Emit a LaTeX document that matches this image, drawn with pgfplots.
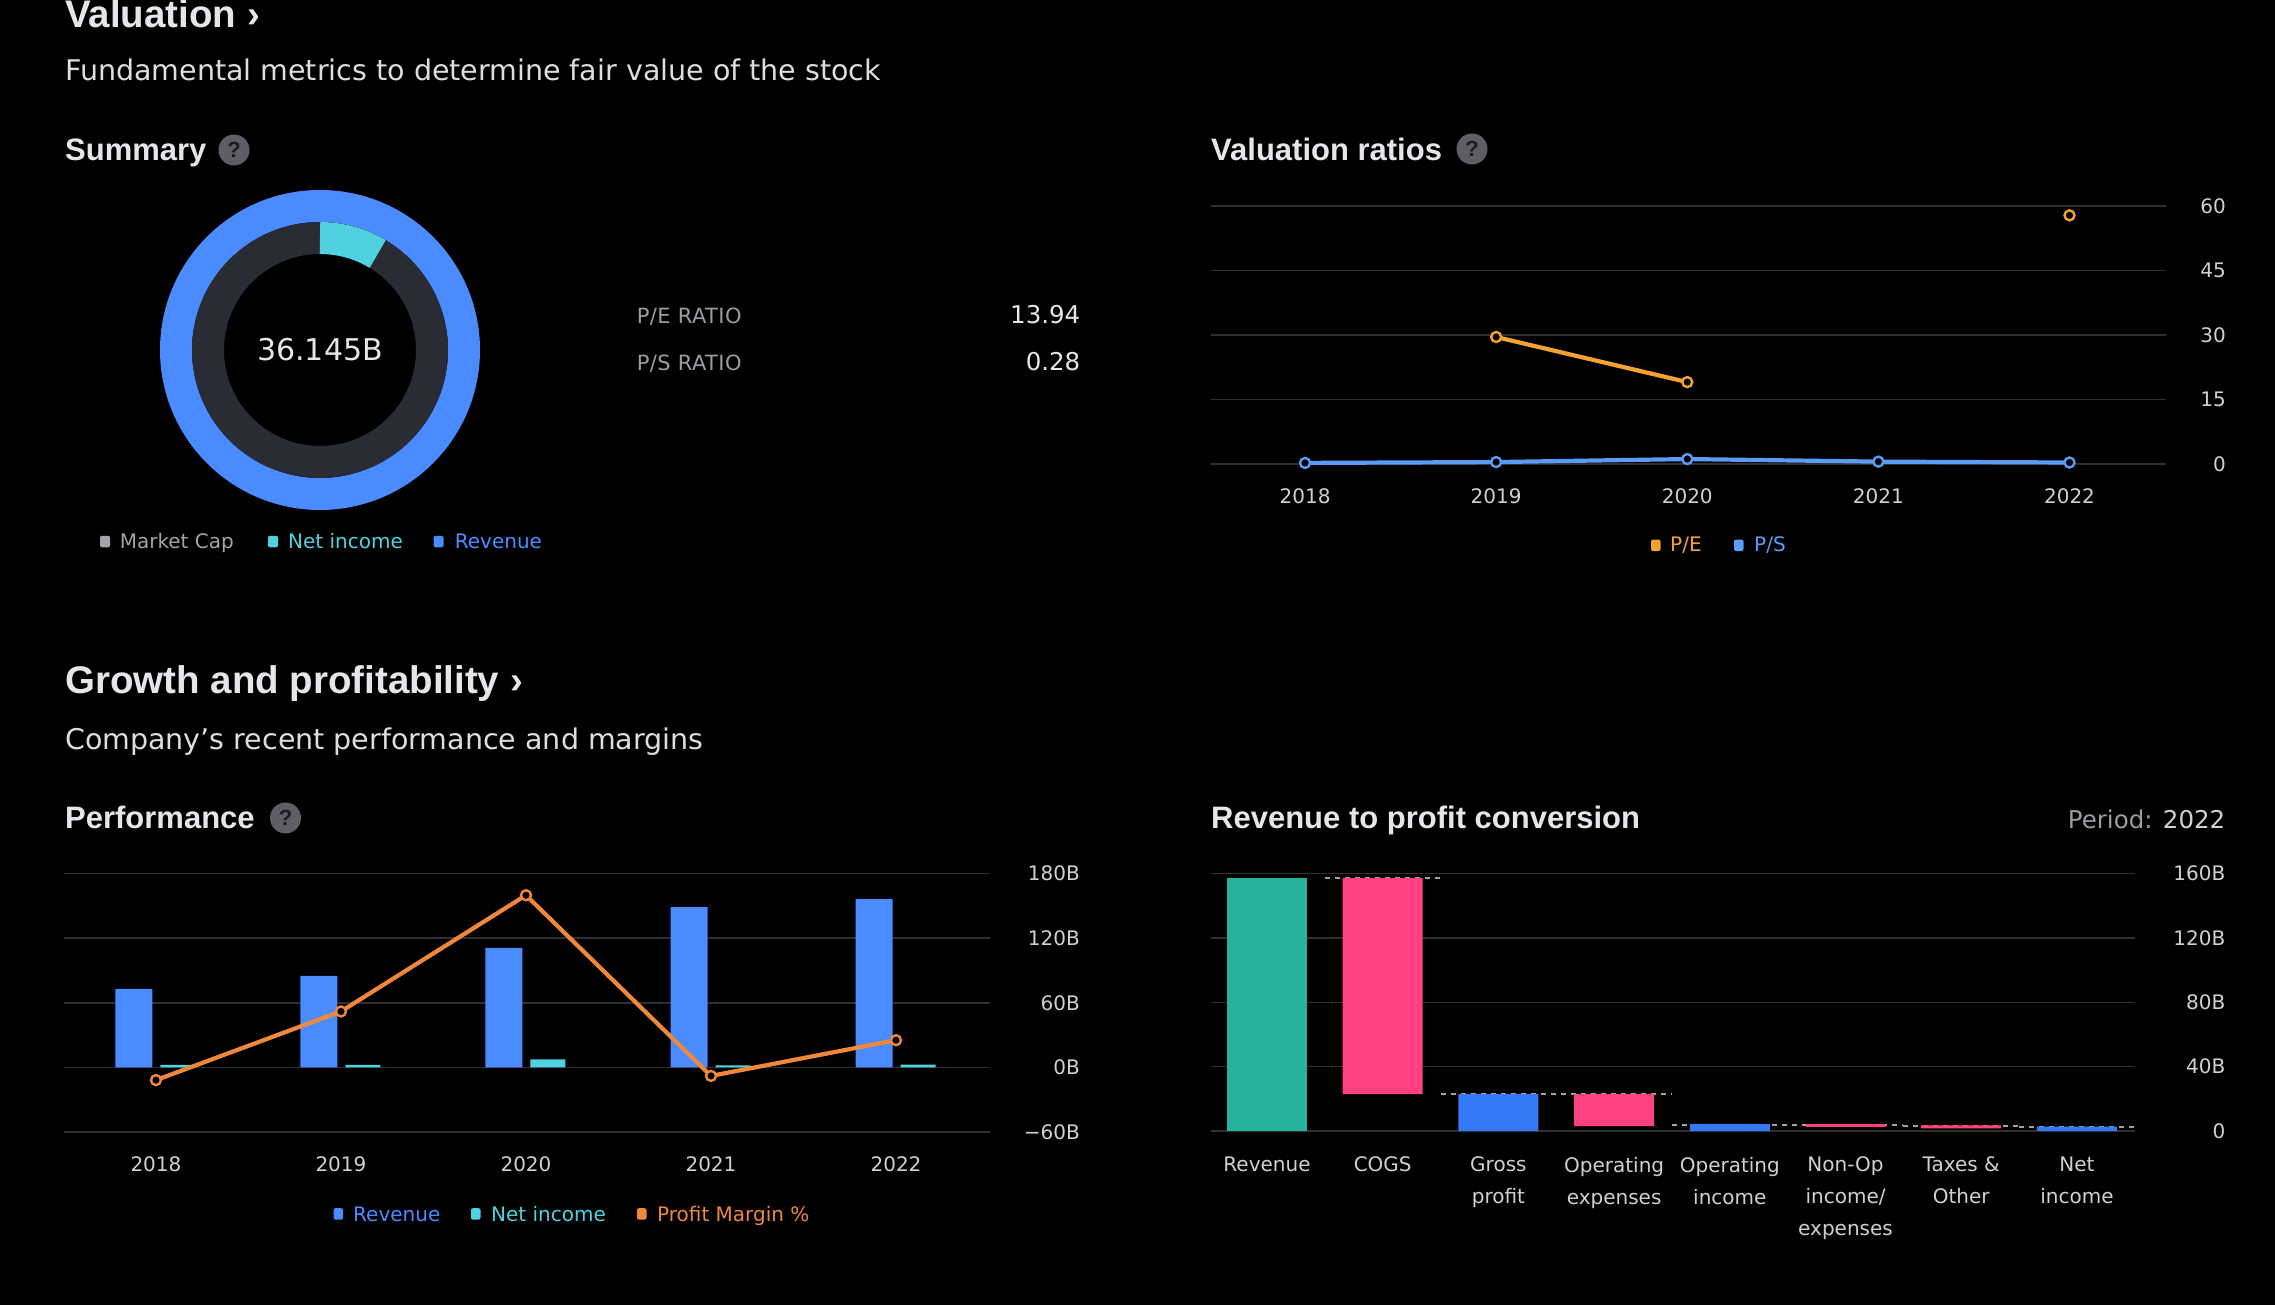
\documentclass[border=0pt]{standalone}
\usepackage{pgfplots}
\pgfplotsset{compat=1.18}
\usepackage{fontspec}
\setmainfont{DejaVu Sans}
\newfontfamily\headfont{Liberation Sans}
\newfontfamily\trackfont{DejaVu Sans}[LetterSpace=2.0]

\definecolor{title}{HTML}{E6E6EA}
\definecolor{sub}{HTML}{DEDEE2}
\definecolor{tick}{HTML}{D0D0D4}
\definecolor{lblgray}{HTML}{9C9CA2}
\definecolor{grid}{HTML}{2E2F36}
\definecolor{qbg}{HTML}{5D5E66}
\definecolor{qfg}{HTML}{1C1C1F}
\definecolor{ring}{HTML}{2A2C35}
\definecolor{blueA}{HTML}{4A8BFF}
\definecolor{cyanA}{HTML}{4FD1E0}
\definecolor{mcgray}{HTML}{A3A3A8}
\definecolor{peorange}{HTML}{F5A233}
\definecolor{psblue}{HTML}{5A9CF5}
\definecolor{pmorange}{HTML}{F0883C}
\definecolor{wfgreen}{HTML}{25B39B}
\definecolor{wfpink}{HTML}{FF4081}
\definecolor{wfblue}{HTML}{3579F6}
\definecolor{dashc}{HTML}{A0A0A6}

\def\lbl{\fontsize{20}{24}\selectfont}
\def\head{\headfont\bfseries\fontsize{31}{37}\selectfont}
\def\big{\headfont\bfseries\fontsize{38.5}{46}\selectfont}
\def\subt{\fontsize{28.5}{34}\selectfont}

\newcommand{\qmark}[2]{%
  \fill[qbg] (#1,#2) circle[radius=15.5pt];
  \node[text=qfg, inner sep=0pt, font=\headfont\bfseries\fontsize{22}{22}\selectfont] at (#1,#2) {?};}

\pgfplotsset{darkax/.style={
  scale only axis,
  anchor=south west,
  axis line style={draw=none},
  tick style={draw=none},
  major tick length=0pt,
  ymajorgrids,
  major grid style={color=grid, line width=1.6pt},
  clip=false,
  ticklabel style={font=\lbl, text=tick, inner sep=0pt},
  yticklabel pos=right,
  yticklabel style={anchor=east},
  xticklabel style={anchor=base},
  xtick={0,...,4},
  xticklabels={2018,2019,2020,2021,2022},
}}

\begin{document}
\begin{tikzpicture}[x=1pt,y=1pt]
\useasboundingbox (0,0) rectangle (2275,1305);
\fill[black] (0,0) rectangle (2275,1305);

% ---------- headings ----------
\node[anchor=base west, inner sep=0pt, text=title, font=\big] at (65,1277.4) {Valuation ›};
\node[anchor=base west, inner sep=0pt, text=sub, font=\subt] at (65,1224) {Fundamental metrics to determine fair value of the stock};
\node[anchor=base west, inner sep=0pt, text=title, font=\head] at (65,1144.3) {Summary};
\qmark{234}{1155}
\node[anchor=base west, inner sep=0pt, text=title, font=\head] at (1211,1144.3) {Valuation ratios};
\qmark{1472}{1156}

\node[anchor=base west, inner sep=0pt, text=title, font=\big] at (65,611) {Growth and profitability ›};
\node[anchor=base west, inner sep=0pt, text=sub, font=\subt] at (65,555.6) {Company’s recent performance and margins};
\node[anchor=base west, inner sep=0pt, text=title, font=\head] at (65,476.3) {Performance};
\qmark{285.5}{487}
\node[anchor=base west, inner sep=0pt, text=title, font=\head] at (1211,476.3) {Revenue to profit conversion};
\node[anchor=base east, inner sep=0pt, font=\fontsize{24.5}{29}\selectfont] at (2225.5,476.3) {\textcolor{lblgray}{Period:} \textcolor{tick}{2022}};

% ---------- summary donut ----------
% revenue ring (full), market cap ring, net income share of the inner ring (31 deg)
\draw[line width=32pt, blueA] (320,955) circle[radius=144pt];
\draw[line width=32pt, ring] (320,955) circle[radius=112pt];
\draw[line width=32pt, cyanA] ([shift={(90:112pt)}]320,955) arc[start angle=90, end angle=59, radius=112pt];
\node[text=title, font=\fontsize{30}{36}\selectfont] at (320,955) {36.145B};

\node[anchor=base west, inner sep=0pt, text=lblgray, font=\trackfont\fontsize{21}{25}\selectfont] at (636.7,981.6) {P/E RATIO};
\node[anchor=base west, inner sep=0pt, text=lblgray, font=\trackfont\fontsize{21}{25}\selectfont] at (636.7,934) {P/S RATIO};
\node[anchor=base east, inner sep=0pt, text=title, font=\fontsize{24.5}{29}\selectfont] at (1080.5,981.6) {13.94};
\node[anchor=base east, inner sep=0pt, text=title, font=\fontsize{24.5}{29}\selectfont] at (1080.5,934) {0.28};

\fill[mcgray, rounded corners=2pt] (100,757.7) rectangle ++(10,11.5);
\node[anchor=base west, inner sep=0pt, text=mcgray, font=\lbl] at (119.6,756.6) {Market Cap};
\fill[cyanA, rounded corners=2pt] (268,757.7) rectangle ++(10,11.5);
\node[anchor=base west, inner sep=0pt, text=cyanA, font=\lbl] at (288,756.6) {Net income};
\fill[blueA, rounded corners=2pt] (433.6,757.7) rectangle ++(10,11.5);
\node[anchor=base west, inner sep=0pt, text=blueA, font=\lbl] at (454.7,756.6) {Revenue};

% ---------- valuation ratios ----------
\begin{axis}[darkax,
  at={(1211pt,841.2pt)}, width=955pt, height=257.9pt,
  xmin=-0.492, xmax=4.505, ymin=0, ymax=60,
  ytick={0,15,30,45,60},
  yticklabels={0,15,30,45,60},
  yticklabel style={xshift=60pt},
  xticklabel style={yshift=-39.8pt},
  unbounded coords=jump]
\addplot[psblue, line width=4.2pt, mark=*, mark size=5pt,
  mark options={fill=black, draw=psblue, line width=2.4pt}] coordinates {
  (0,0.2) (1,0.4) (2,1.1) (3,0.5) (4,0.3)};
\addplot[peorange, line width=4.2pt, mark=*, mark size=5pt,
  mark options={fill=black, draw=peorange, line width=2.4pt}] coordinates {
  (0,nan) (1,29.5) (2,19.0) (3,nan) (4,57.8)};
\end{axis}
\fill[peorange, rounded corners=2pt] (1651,753.9) rectangle ++(9.5,11.5);
\node[anchor=base west, inner sep=0pt, text=peorange, font=\lbl] at (1670,753) {P/E};
\fill[psblue, rounded corners=2pt] (1734,753.9) rectangle ++(9.5,11.5);
\node[anchor=base west, inner sep=0pt, text=psblue, font=\lbl] at (1754,753) {P/S};

% ---------- performance ----------
\begin{axis}[darkax,
  at={(64pt,173pt)}, width=926pt, height=258.3pt,
  xmin=-0.497, xmax=4.508, ymin=-60, ymax=180,
  ytick={-60,0,60,120,180},
  yticklabels={−60B,0B,60B,120B,180B},
  yticklabel style={xshift=90pt},
  xticklabel style={yshift=-39.4pt}]
\addplot[ybar, bar width=37pt, bar shift=-22pt, fill=blueA, draw=none] coordinates {
  (0,72.9) (1,85.1) (2,111.1) (3,148.9) (4,156.4)};
\addplot[ybar, bar width=35pt, bar shift=22pt, fill=cyanA, draw=none] coordinates {
  (0,2.3) (1,2.3) (2,7.5) (3,1.8) (4,2.6)};
% profit margin %, drawn on the chart's own hidden scale
\addplot[pmorange, line width=4.2pt, mark=*, mark size=5pt,
  mark options={fill=black, draw=pmorange, line width=2.4pt}] coordinates {
  (0,-11.8) (1,52.0) (2,160.0) (3,-7.9) (4,25.3)};
\end{axis}
\fill[blueA, rounded corners=2pt] (333.6,85.3) rectangle ++(9.5,11.5);
\node[anchor=base west, inner sep=0pt, text=blueA, font=\lbl] at (353,83.1) {Revenue};
\fill[cyanA, rounded corners=2pt] (471,85.3) rectangle ++(9.5,11.5);
\node[anchor=base west, inner sep=0pt, text=cyanA, font=\lbl] at (491,83.1) {Net income};
\fill[pmorange, rounded corners=2pt] (637,85.3) rectangle ++(9.5,11.5);
\node[anchor=base west, inner sep=0pt, text=pmorange, font=\lbl] at (657,83.1) {Profit Margin \%};

% ---------- revenue to profit conversion ----------
\begin{axis}[darkax,
  at={(1211pt,174pt)}, width=924pt, height=257.3pt,
  xmin=-0.484, xmax=7.502, ymin=0, ymax=160,
  ytick={0,40,80,120,160},
  yticklabels={0,40B,80B,120B,160B},
  yticklabel style={xshift=90.5pt},
  xtick={0,...,7},
  xticklabels={Revenue,COGS,{Gross\\profit},{Operating\\expenses},{Operating\\income},{Non-Op\\income/\\expenses},{Taxes \&\\Other},{Net\\income}},
  xticklabel style={anchor=north, align=center, yshift=-25.8pt, font=\fontsize{20}{32}\selectfont},
  unbounded coords=jump]
\addplot[dashc, line width=2pt, dash pattern=on 5pt off 5pt] coordinates {
  (0.5,157.3) (1.5,157.3) (1.5,nan)
  (1.5,23.0) (3.5,23.0) (3.5,nan)
  (3.5,3.7) (5.5,3.7) (5.5,nan)
  (5.5,3.4) (6.5,3.4) (6.5,nan)
  (6.5,2.3) (7.5,2.3)};
\end{axis}
\begin{axis}[scale only axis, anchor=south west, hide axis,
  at={(1211pt,174pt)}, width=924pt, height=257.3pt,
  xmin=-0.484, xmax=7.502, ymin=0, ymax=160,
  ybar stacked, bar width=80pt, clip=false]
% invisible base of each floating bar
\addplot[draw=none, fill=none] coordinates {
  (0,0) (1,23.0) (2,0) (3,3.1) (4,0) (5,2.5) (6,1.7) (7,0)};
\addplot[draw=none, fill=wfgreen] coordinates {
  (0,157.3) (1,0) (2,0) (3,0) (4,0) (5,0) (6,0) (7,0)};
\addplot[draw=none, fill=wfpink] coordinates {
  (0,0) (1,134.3) (2,0) (3,19.9) (4,0) (5,1.8) (6,1.8) (7,0)};
\addplot[draw=none, fill=wfblue] coordinates {
  (0,0) (1,0) (2,23.0) (3,0) (4,4.2) (5,0) (6,0) (7,2.7)};
\end{axis}
\end{tikzpicture}
\end{document}
